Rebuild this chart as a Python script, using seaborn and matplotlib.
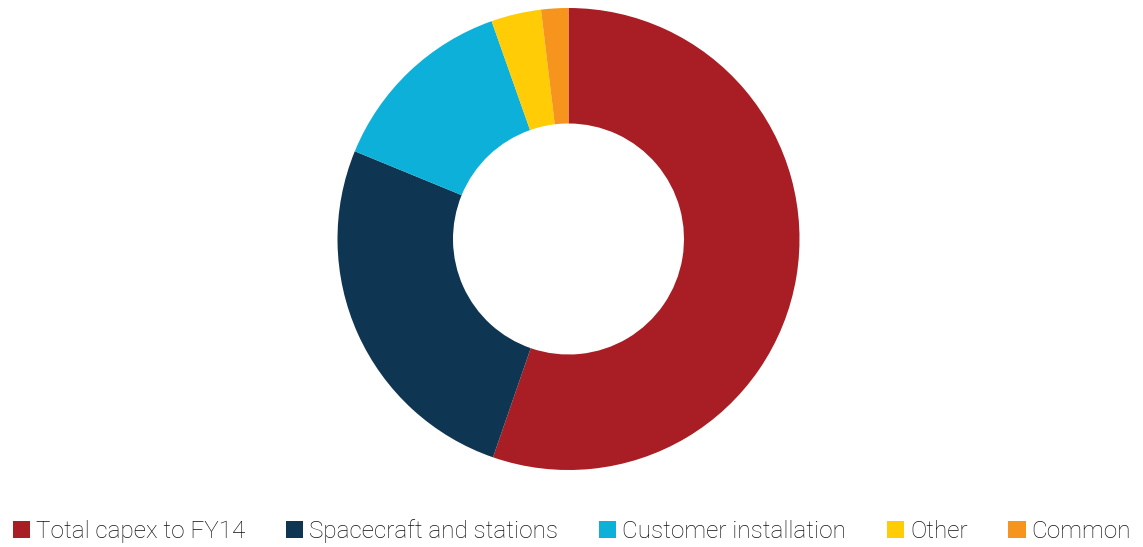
import matplotlib
matplotlib.use("Agg")
import matplotlib.pyplot as plt
import seaborn as sns

# Capex breakdown (% of total)
categories = ["Total capex to FY14", "Spacecraft and stations",
              "Customer installation", "Other", "Common"]
shares = [55.3, 25.9, 13.4, 3.5, 1.9]
colors = ["#A81E24", "#0E3551", "#0CB0D9", "#FFCC05", "#F7941D"]

sns.set_theme(style="white")
plt.rcParams["font.family"] = ["Roboto", "DejaVu Sans"]

W, H = 1143, 547
fig = plt.figure(figsize=(W / 100, H / 100), dpi=100)
fig.patch.set_facecolor("white")

cx, cy, R = 568.5, 239, 231
ax = fig.add_axes([(cx - R) / W, (H - cy - R) / H, 2 * R / W, 2 * R / H])
wedges, _ = ax.pie(shares, colors=sns.color_palette(colors), startangle=90,
                   counterclock=False, radius=1.0,
                   wedgeprops=dict(width=0.5, linewidth=0, antialiased=True))
ax.set_xlim(-1, 1)
ax.set_ylim(-1, 1)
ax.set_aspect("equal")
ax.axis("off")

fig.legend(wedges, categories, loc="center",
           bbox_to_anchor=(572 / W, 1 - 531.5 / H), ncol=5, frameon=False,
           prop=dict(family=["Roboto", "DejaVu Sans"], weight="light", size=17.5),
           handlelength=0.7, handleheight=0.7, handletextpad=0.25,
           columnspacing=1.68, borderpad=0, labelcolor="#111111")

fig.savefig("out.png", dpi=100, facecolor="white")
